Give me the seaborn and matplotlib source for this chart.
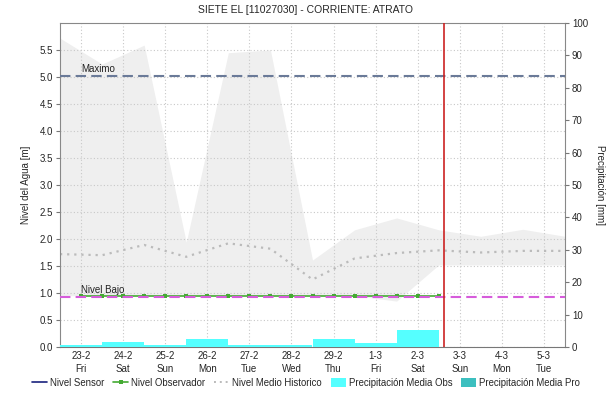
import numpy as np
import pandas as pd
import matplotlib
matplotlib.use("Agg")
import matplotlib.pyplot as plt
from matplotlib.lines import Line2D
from matplotlib.patches import Patch
import seaborn as sns

# ---------------- data ----------------
day_labels = ["23-2\nFri", "24-2\nSat", "25-2\nSun", "26-2\nMon", "27-2\nTue", "28-2\nWed",
              "29-2\nThu", "1-3\nFri", "2-3\nSat", "3-3\nSun", "4-3\nMon", "5-3\nTue"]
day_pos = list(range(12))

# historical band / mean, sampled at day boundaries
band_pos = [-0.5, 0.5, 1.5, 2.5, 3.5, 4.5, 5.5, 6.5, 7.5, 8.5, 9.5, 10.5, 11.5]
band_max = [5.72, 5.24, 5.59, 1.94, 5.45, 5.50, 1.61, 2.17, 2.39, 2.17, 2.05, 2.18, 2.05]
band_min = [0.95, 0.95, 0.95, 0.95, 0.95, 0.95, 0.95, 0.95, 0.85, 1.52, 1.52, 1.52, 1.52]
mean_hist = [1.72, 1.70, 1.89, 1.67, 1.92, 1.82, 1.25, 1.64, 1.74, 1.79, 1.75, 1.78, 1.78]

# observer level, every 12 hours
obs_pos = [0.0, 0.5, 1.0, 1.5, 2.0, 2.5, 3.0, 3.5, 4.0, 4.5, 5.0, 5.5, 6.0, 6.5, 7.0, 7.5, 8.0, 8.5]
obs_val = [0.94] * 18

# daily mean precipitation (mm), observed
precip_pos = [0, 1, 2, 3, 4, 5, 6, 7, 8]
precip_obs = [0.5, 1.6, 0.5, 2.6, 0.5, 0.5, 2.6, 1.3, 5.4]

nivel_maximo = 5.02
nivel_bajo = 0.93
now_pos = 8.62

title = "SIETE EL [11027030] - CORRIENTE: ATRATO"

# ---------------- plot ----------------
sns.set_style("white")
plt.rcParams["font.family"] = ["Liberation Sans", "DejaVu Sans"]

fig = plt.figure(figsize=(6.12, 4.01), dpi=100)
ax = fig.add_axes([60/612, 1-347/401, 505/612, 324/401])
ax.set_axisbelow("line")

ax.fill_between(band_pos, band_min, band_max, color="#EFEFEF", lw=0, zorder=0.5)

sns.lineplot(x=band_pos, y=mean_hist, ax=ax, color="#BBBBBB", lw=1.6,
             linestyle=(0, (1, 2.2)), zorder=2)
sns.lineplot(x=obs_pos, y=obs_val, ax=ax, color="#44AA33", lw=1.2, marker="s",
             markersize=2.5, markeredgewidth=0, zorder=3)

ax.axhline(nivel_maximo, color="#6A7A98", lw=1.5, ls=(0, (5, 2.5)), zorder=3)
ax.axhline(nivel_bajo, color="#D65CDB", lw=1.5, ls=(0, (5, 2.5)), zorder=3.5)
ax.text(0, nivel_maximo + 0.03, "Maximo", fontsize=7, va="bottom", ha="left", color="#222222")
ax.text(0, nivel_bajo + 0.03, "Nivel Bajo", fontsize=7, va="bottom", ha="left", color="#222222")

ax.set_xlim(-0.5, 11.5)
ax.set_ylim(0, 6.0)
ax.set_yticks(np.arange(0, 5.51, 0.5))
ax.set_yticklabels([f"{v:.1f}" for v in np.arange(0, 5.51, 0.5)])
ax.set_xticks(day_pos)
ax.set_xticklabels(day_labels, linespacing=1.3)
ax.grid(True, color="#C8C8C8", lw=0.8, ls=(0, (1, 2)))
ax.set_ylabel("Nivel del Agua [m]", fontsize=7, labelpad=6)
ax.tick_params(axis="both", labelsize=7, length=3, color="#777777", direction="out",
               left=True, bottom=False, pad=2)
ax.tick_params(axis="x", pad=0)

for side in ["left", "top", "right"]:
    ax.spines[side].set_color("#888888")
    ax.spines[side].set_linewidth(0.8)
ax.spines["bottom"].set_color("#777777")
ax.spines["bottom"].set_linestyle((0, (1, 1)))

ax2 = ax.twinx()
ax2.bar(precip_pos, precip_obs, width=1.0, color="#55FFFF", lw=0, zorder=2)
ax2.axvline(now_pos, color="#CC2222", lw=1.2, zorder=5)
ax2.set_ylim(0, 100)
ax2.set_yticks(range(0, 101, 10))
ax2.set_ylabel("Precipitación [mm]", fontsize=7, rotation=270, labelpad=12)
ax2.tick_params(axis="y", labelsize=7, length=3, color="#777777", right=True, pad=2)
for side in ["left", "top", "right", "bottom"]:
    ax2.spines[side].set_visible(False)
ax2.set_xlim(-0.5, 11.5)

fig.suptitle(title, fontsize=7.5, y=1-10/401, va="center")

handles = [
    Line2D([], [], color="#1A237E", lw=1.2),
    Line2D([], [], color="#44AA33", lw=1.2, marker="s", markersize=2.5, markeredgewidth=0),
    Line2D([], [], color="#BBBBBB", lw=1.4, ls=(0, (1, 2))),
    Patch(facecolor="#55FFFF", edgecolor="none"),
    Patch(facecolor="#3CBFBF", edgecolor="none"),
]
labels = ["Nivel Sensor", "Nivel Observador", "Nivel Medio Historico",
          "Precipitación Media Obs", "Precipitación Media Pro"]
fig.legend(handles, labels, loc="center", bbox_to_anchor=(0.5, 1-383/401), ncol=5,
           frameon=False, fontsize=6.9, handlelength=1.6, handletextpad=0.3,
           columnspacing=0.9, handleheight=1.0)

fig.savefig("out.png", dpi=100)
